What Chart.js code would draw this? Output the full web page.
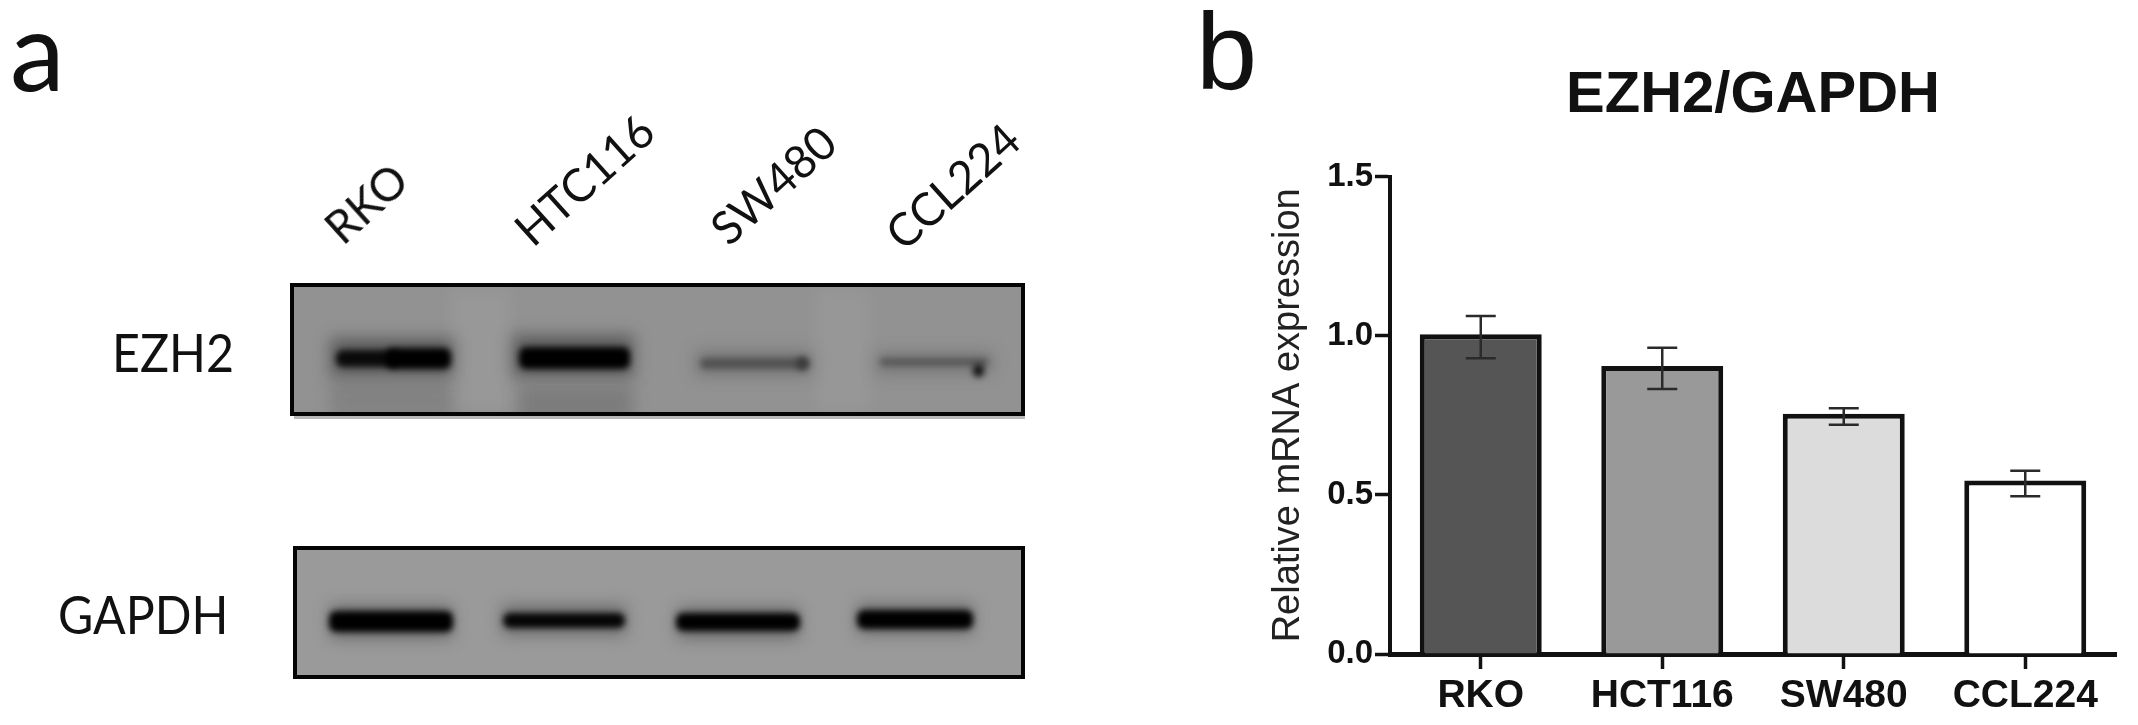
<!DOCTYPE html>
<html>
<head>
<meta charset="utf-8">
<script src="https://cdn.jsdelivr.net/npm/chart.js@4/dist/chart.umd.min.js"></script>
<style>
  html, body { margin: 0; padding: 0; background: #fff; }
  body { position: relative; width: 2138px; height: 725px; overflow: hidden; }
  canvas { position: absolute; display: block; }
  .lbl { position: absolute; white-space: nowrap; color: #111; font-family: Lato, sans-serif; line-height: 1; }
  .lane { font-size: 46px; transform-origin: 0 100%; transform: rotate(-42deg) scaleX(0.98); }
  .row { font-size: 52px; transform-origin: 0 50%; transform: scaleX(0.93); }
</style>
</head>
<body>
<canvas id="blotCanvas" width="1100" height="725" style="left:0;top:0"></canvas>
<div class="lbl" style="left:10px;top:-7px;font-size:110px">a</div>
<div class="lbl" style="left:1196px;top:-4px;font-size:110px;font-family:'Liberation Sans'">b</div>
<div id="chartBox" style="position:absolute;left:1240px;top:0;width:898px;height:725px"><canvas id="barCanvas"></canvas></div>
<script>
// Bar panel data
const categories = ["RKO", "HCT116", "SW480", "CCL224"];
const expression = [1.005, 0.905, 0.755, 0.545];
const errorHigh = [1.062, 0.962, 0.772, 0.576];
const errorLow = [0.929, 0.833, 0.72, 0.496];
const barColors = ["#555555", "#999999", "#dcdcdc", "#ffffff"];

// Blot panel text
const laneLabels = ["RKO", "HTC116", "SW480", "CCL224"];
const rowLabels = ["EZH2", "GAPDH"];

// Lane and row labels
const laneSpots = [[347, 205], [537, 207], [733, 206], [908, 211]];
laneLabels.forEach((text, i) => {
  const el = document.createElement("div");
  el.className = "lbl lane";
  el.textContent = text;
  el.style.left = laneSpots[i][0] + "px";
  el.style.top = laneSpots[i][1] + "px";
  document.body.appendChild(el);
});
const rowSpots = [[112, 326], [58, 588]];
rowLabels.forEach((text, i) => {
  const el = document.createElement("div");
  el.className = "lbl row";
  el.textContent = text;
  el.style.left = rowSpots[i][0] + "px";
  el.style.top = rowSpots[i][1] + "px";
  document.body.appendChild(el);
});

// Western blot picture, drawn by hand since it is not a plot
function drawBlot(ctx, box, bg, smudges, bands) {
  ctx.save();
  ctx.beginPath();
  ctx.rect(box.x, box.y, box.w, box.h);
  ctx.clip();
  ctx.fillStyle = bg;
  ctx.fillRect(box.x, box.y, box.w, box.h);
  ctx.filter = "blur(8px)";
  smudges.forEach(s => {
    ctx.fillStyle = s[4];
    ctx.fillRect(s[0], s[1], s[2], s[3]);
  });
  ctx.filter = "blur(3px)";
  bands.forEach(b => {
    ctx.fillStyle = b[4];
    ctx.beginPath();
    ctx.roundRect(b[0], b[1], b[2], b[3], 7);
    ctx.fill();
  });
  ctx.restore();
  ctx.strokeStyle = "#050505";
  ctx.lineWidth = 4;
  ctx.strokeRect(box.x + 2, box.y + 2, box.w - 4, box.h - 4);
}

const blotCtx = document.getElementById("blotCanvas").getContext("2d");
blotCtx.fillStyle = "rgba(0,0,0,0.28)";
blotCtx.fillRect(294, 416, 731, 3);
drawBlot(blotCtx, { x: 290, y: 283, w: 735, h: 133 }, "#929292",
  [
    [330, 338, 125, 38, "rgba(40,40,40,0.5)"],
    [512, 335, 122, 42, "rgba(40,40,40,0.5)"],
    [695, 350, 118, 26, "rgba(60,60,60,0.28)"],
    [875, 352, 118, 22, "rgba(60,60,60,0.28)"],
    [330, 380, 125, 40, "rgba(70,70,70,0.2)"],
    [518, 386, 115, 36, "rgba(60,60,60,0.26)"],
    [450, 290, 60, 120, "rgba(255,255,255,0.06)"],
    [815, 290, 55, 120, "rgba(255,255,255,0.05)"]
  ],
  [
    [336, 350, 62, 17, "#0a0a0a"],
    [386, 348, 65, 21, "#000000"],
    [519, 347, 111, 22, "#000000"],
    [700, 358, 108, 11, "#525252"],
    [796, 357, 13, 13, "#3a3a3a"],
    [880, 358, 108, 8, "#585858"],
    [973, 364, 11, 13, "#141414"]
  ]);
drawBlot(blotCtx, { x: 293, y: 546, w: 732, h: 133 }, "#9a9a9a",
  [
    [330, 606, 122, 32, "rgba(40,40,40,0.42)"],
    [502, 605, 124, 30, "rgba(40,40,40,0.38)"],
    [677, 608, 122, 30, "rgba(40,40,40,0.42)"],
    [857, 604, 116, 30, "rgba(40,40,40,0.38)"]
  ],
  [
    [329, 611, 124, 21, "#000000"],
    [503, 613, 122, 15, "#050505"],
    [676, 613, 124, 18, "#000000"],
    [857, 610, 116, 19, "#000000"]
  ]);

// Error bars and caps, placed through the chart scales
const errorBars = {
  id: "errorBars",
  afterDatasetsDraw(chart) {
    const { ctx, scales } = chart;
    ctx.save();
    ctx.strokeStyle = "#2a2a2a";
    ctx.lineWidth = 2.5;
    categories.forEach((name, i) => {
      const x = scales.x.getPixelForValue(i);
      const top = scales.y.getPixelForValue(errorHigh[i]);
      const bottom = scales.y.getPixelForValue(errorLow[i]);
      ctx.beginPath();
      ctx.moveTo(x, top);
      ctx.lineTo(x, bottom);
      ctx.moveTo(x - 15, top);
      ctx.lineTo(x + 15, top);
      ctx.moveTo(x - 15, bottom);
      ctx.lineTo(x + 15, bottom);
      ctx.stroke();
    });
    ctx.restore();
  }
};

const barChart = new Chart(document.getElementById("barCanvas"), {
  type: "bar",
  data: {
    labels: categories,
    datasets: [{
      data: expression,
      backgroundColor: barColors,
      borderColor: "#111111",
      borderWidth: 5,
      barPercentage: 0.672,
      categoryPercentage: 1
    }]
  },
  plugins: [errorBars],
  options: {
    responsive: true,
    maintainAspectRatio: false,
    animation: false,
    devicePixelRatio: 1,
    layout: { padding: { right: 22, left: 0, top: 0, bottom: 0 } },
    plugins: {
      legend: { display: false },
      tooltip: { enabled: false },
      title: {
        display: true,
        text: "EZH2/GAPDH",
        color: "#111111",
        fullSize: false,
        font: { family: "Liberation Sans", size: 58, weight: "bold" },
        padding: { top: 61, bottom: 46 }
      }
    },
    scales: {
      x: {
        afterFit: s => { s.height = 71; },
        border: { color: "#111111", width: 5 },
        grid: { offset: false, drawOnChartArea: false, color: "#111111", tickLength: 15, tickWidth: 3.5 },
        ticks: {
          color: "#111111",
          padding: 4,
          maxRotation: 0,
          font: { family: "Liberation Sans", size: 39, weight: "bold" }
        }
      },
      y: {
        min: 0,
        max: 1.5,
        afterFit: s => { s.width = 150; },
        border: { color: "#111111", width: 4 },
        grid: { drawOnChartArea: false, color: "#111111", tickLength: 15, tickWidth: 3.5 },
        title: {
          display: true,
          text: "Relative mRNA expression",
          color: "#222222",
          padding: { top: 26, bottom: 0 },
          font: { family: "Liberation Sans", size: 38, weight: "normal" }
        },
        ticks: {
          stepSize: 0.5,
          color: "#111111",
          padding: 2,
          callback: v => v.toFixed(1),
          font: { family: "Liberation Sans", size: 33, weight: "bold" }
        }
      }
    }
  }
});
</script>
</body>
</html>
